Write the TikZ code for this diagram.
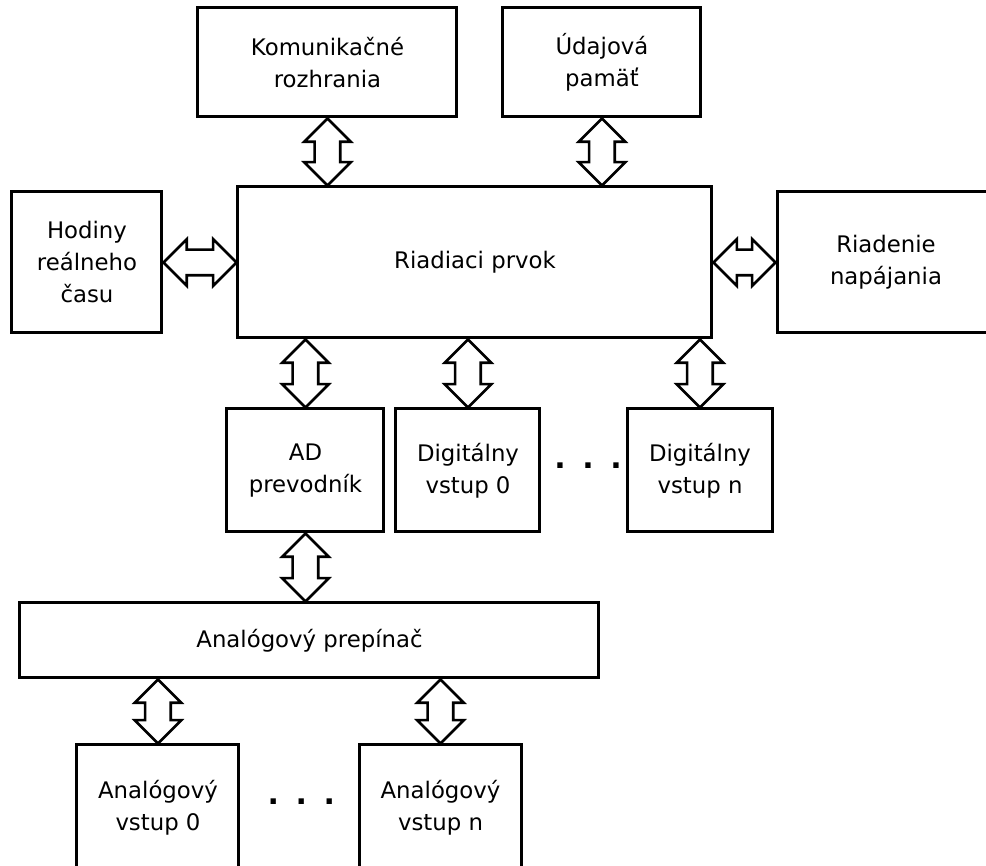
\documentclass[tikz,border=0pt]{standalone}
\usepackage{fontspec}
\setmainfont{DejaVu Sans}
\usetikzlibrary{positioning,calc,shapes.arrows}

\tikzset{
  block/.style={draw, line width=3pt, align=center, inner sep=0pt},
  busarrow/.style={double arrow, draw, line width=2.6pt, fill=white,
    inner xsep=0pt, inner ysep=11.5pt, double arrow head extend=10.5pt,
    double arrow head indent=0pt, double arrow tip angle=90},
  bus/.style={to path={
    let \p1=(\tikztostart), \p2=(\tikztotarget),
        \n1={veclen(\x2-\x1,\y2-\y1)}, \n2={atan2(\y2-\y1,\x2-\x1)} in
    ($(\p1)!.5!(\p2)$) node[busarrow, minimum height=\n1, rotate=\n2] {}}},
  dotrow/.style={font=\fontsize{30}{32}\selectfont\bfseries}
}

\begin{document}
\begin{tikzpicture}[on grid, font=\fontsize{22.8}{32}\selectfont]
      \useasboundingbox (-475pt,-603.5pt) rectangle (511pt,262.5pt);

      \node[block, minimum width=474pt, minimum height=151pt] (riad) {Riadiaci prvok};
      \node[block, minimum width=150pt, minimum height=141pt] (hod) [left=388pt of riad] {Hodiny\\reálneho\\času};
      \node[block, minimum width=218pt, minimum height=141pt] (nap) [right=411pt of riad] {Riadenie\\napájania};
      \node[block, minimum width=259pt, minimum height=109pt] (kom) [above left=200pt and 147.5pt of riad] {Komunikačné\\rozhrania};
      \node[block, minimum width=198pt, minimum height=109pt] (uda) [above right=200pt and 127pt of riad] {Údajová\\pamäť};
      \node[block, minimum width=157pt, minimum height=123pt] (ad) [below left=208pt and 169.5pt of riad] {AD\\prevodník};
      \node[block, minimum width=144pt, minimum height=123pt] (dig0) [right=162.5pt of ad] {Digitálny\\vstup 0};
      \node[block, minimum width=144pt, minimum height=123pt] (dign) [right=232pt of dig0] {Digitálny\\vstup n};
      \node[block, minimum width=579pt, minimum height=75pt] (prep) [below right=170pt and 4pt of ad] {Analógový prepínač};
      \node[block, minimum width=162pt, minimum height=125pt] (an0) [below left=167pt and 151.5pt of prep] {Analógový\\vstup 0};
      \node[block, minimum width=162pt, minimum height=125pt] (ann) [right=282.5pt of an0] {Analógový\\vstup n};

      \node[dotrow] (dotsd) at ($(dig0)!.5!(dign)+(4pt,5pt)$) {.\hspace{16.6pt}.\hspace{16.6pt}.};
      \node[dotrow] (dotsa) at ($(an0)!.5!(ann)+(2pt,5.5pt)$) {.\hspace{16.6pt}.\hspace{16.6pt}.};

      \path (hod.east)   edge[bus] (riad.west |- hod.east)
            (nap.west)   edge[bus] (riad.east |- nap.west)
            (kom.south)  edge[bus] (kom.south |- riad.north)
            (uda.south)  edge[bus] (uda.south |- riad.north)
            (ad.north)   edge[bus] (ad.north |- riad.south)
            (dig0.north) edge[bus] (dig0.north |- riad.south)
            (dign.north) edge[bus] (dign.north |- riad.south)
            (ad.south)   edge[bus] (ad.south |- prep.north)
            (an0.north)  edge[bus] (an0.north |- prep.south)
            (ann.north)  edge[bus] (ann.north |- prep.south);
    \end{tikzpicture}
\end{document}
